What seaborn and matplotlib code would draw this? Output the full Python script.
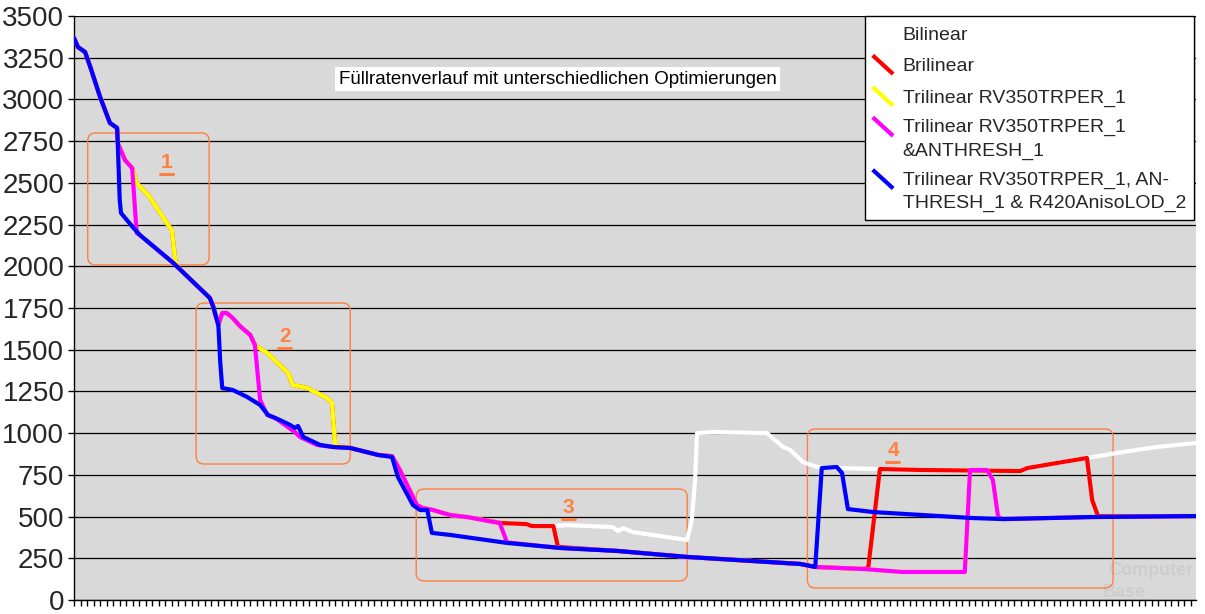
import matplotlib
matplotlib.use("Agg")
import matplotlib.pyplot as plt
import seaborn as sns
import pandas as pd
import numpy as np
from matplotlib.patches import FancyBboxPatch
from matplotlib.legend_handler import HandlerBase
from matplotlib.lines import Line2D
from matplotlib.transforms import IdentityTransform

sns.set_theme(style="white")
plt.rcParams["font.family"] = ["Liberation Sans", "DejaVu Sans"]

# ---------------- data (sample index, fill rate) ----------------
SERIES = ["Bilinear", "Brilinear", "Trilinear RV350TRPER_1",
          "Trilinear RV350TRPER_1\n&ANTHRESH_1",
          "Trilinear RV350TRPER_1, AN-\nTHRESH_1 & R420AnisoLOD_2"]
COLORS = ["#FFFFFF", "#FF0000", "#FFFF00", "#FF00FF", "#0000FF"]

START = [(0.0, 3368), (0.6, 3314), (1.7, 3284), (2.5, 3194), (4.0, 3014),
         (5.5, 2859), (6.6, 2829)]

BILINEAR = START + [
    (6.7, 2739), (7.8, 2637), (8.9, 2589), (9.6, 2499), (11.6, 2415), (14.4, 2247),
    (15.0, 2217), (15.5, 2037), (15.9, 1995), (20.8, 1810), (21.3, 1760), (22.1, 1648),
    (22.7, 1720), (23.4, 1720), (24.3, 1690), (25.4, 1642), (27.0, 1588), (27.7, 1528),
    (29.6, 1480), (31.5, 1408), (32.8, 1360), (33.5, 1288), (35.7, 1271), (38.7, 1211),
    (39.5, 1181), (40.0, 929), (42.3, 911), (46.6, 869), (48.7, 862), (49.9, 779),
    (52.5, 569), (53.4, 551), (55.0, 539), (57.6, 509), (60.2, 497), (65.5, 461),
    (69.3, 455), (70.1, 443), (73.4, 443), (75.5, 449), (82.5, 437), (83.3, 413),
    (84.1, 431), (85.6, 407), (88.7, 389), (90.8, 377), (93.9, 360), (94.6, 479),
    (95.1, 719), (95.4, 1000), (97.9, 1007), (106.1, 1000), (108.6, 917), (109.7, 899),
    (111.6, 827), (113.8, 797), (117.3, 791), (123.0, 785), (130.0, 779), (144.9, 773),
    (146.0, 791), (150.5, 821), (155.1, 851), (160.6, 887), (165.8, 917), (171.8, 941)]

BRILINEAR = START + [
    (6.7, 2739), (7.8, 2637), (8.9, 2589), (9.6, 2499), (11.6, 2415), (14.4, 2247),
    (15.0, 2217), (15.5, 2037), (15.9, 1995), (20.8, 1810), (21.3, 1760), (22.1, 1648),
    (22.7, 1720), (23.4, 1720), (24.3, 1690), (25.4, 1642), (27.0, 1588), (27.7, 1528),
    (29.6, 1480), (31.5, 1408), (32.8, 1360), (33.5, 1288), (35.7, 1271), (38.7, 1211),
    (39.5, 1181), (40.0, 929), (42.3, 911), (46.6, 869), (48.7, 862), (49.9, 779),
    (52.5, 569), (53.4, 551), (55.0, 539), (57.6, 509), (60.2, 497), (65.5, 461),
    (69.3, 455), (70.1, 443), (73.4, 443), (74.1, 318), (83.2, 294), (93.9, 258),
    (111.2, 216), (113.5, 198), (120.8, 186), (121.6, 190), (123.4, 785), (130.0, 779),
    (144.9, 773), (146.0, 791), (150.5, 821), (155.1, 851), (155.9, 599), (156.8, 503),
    (171.8, 503)]

TRILINEAR = START + [
    (6.7, 2739), (7.8, 2637), (8.9, 2589), (9.6, 2499), (11.6, 2415), (14.4, 2247),
    (15.0, 2217), (15.5, 2037), (15.9, 1995), (20.8, 1810), (21.3, 1760), (22.1, 1648),
    (22.7, 1720), (23.4, 1720), (24.3, 1690), (25.4, 1642), (27.0, 1588), (27.7, 1528),
    (29.6, 1480), (31.5, 1408), (32.8, 1360), (33.5, 1288), (35.7, 1271), (38.7, 1211),
    (39.5, 1181), (40.0, 929), (42.3, 911), (46.6, 869), (48.7, 862), (49.9, 779),
    (52.5, 569), (53.4, 551), (55.0, 539), (57.6, 509), (60.2, 497), (65.2, 461),
    (66.3, 345), (74.4, 312), (83.2, 294), (93.9, 258), (111.2, 216), (113.5, 198),
    (120.8, 186), (126.8, 168), (136.4, 168), (137.2, 779), (139.8, 779), (140.7, 719),
    (141.5, 497), (142.3, 485), (155.6, 497), (171.8, 503)]

TRI_ANTHRESH = START + [
    (6.7, 2739), (7.8, 2637), (8.9, 2589), (9.6, 2199), (10.1, 2187), (15.2, 2020),
    (20.8, 1810), (21.3, 1760), (22.1, 1648), (22.7, 1720), (23.4, 1720), (24.3, 1690),
    (25.4, 1642), (27.0, 1588), (27.7, 1528), (28.5, 1199), (29.6, 1109), (30.8, 1091),
    (33.8, 1007), (34.6, 977), (37.2, 929), (39.7, 917), (42.3, 911), (46.6, 869),
    (48.7, 862), (49.9, 779), (52.5, 569), (53.4, 551), (55.0, 539), (57.6, 509),
    (60.2, 497), (65.2, 461), (66.3, 345), (74.4, 312), (83.2, 294), (93.9, 258),
    (111.2, 216), (113.5, 198), (120.8, 186), (126.8, 168), (136.4, 168), (137.2, 779),
    (139.8, 779), (140.7, 719), (141.5, 497), (142.3, 485), (155.6, 497), (171.8, 503)]

TRI_ANISO = START + [
    (6.7, 2739), (7.0, 2397), (7.2, 2319), (9.0, 2235), (10.1, 2187), (15.2, 2020),
    (20.8, 1810), (21.3, 1760), (22.1, 1648), (22.4, 1420), (22.7, 1270), (24.3, 1259),
    (26.5, 1217), (28.5, 1169), (29.7, 1109), (31.5, 1079), (33.1, 1049), (33.8, 1031),
    (34.3, 1043), (35.1, 977), (37.7, 929), (39.7, 917), (42.3, 911), (46.6, 869),
    (48.7, 857), (49.6, 737), (51.9, 569), (53.0, 539), (54.1, 539), (54.8, 402),
    (57.6, 390), (66.3, 342), (74.4, 312), (83.2, 294), (93.9, 258), (111.2, 216),
    (113.5, 198), (114.5, 791), (116.8, 797), (117.6, 761), (118.5, 545), (122.4, 527),
    (130.0, 509), (137.7, 491), (142.3, 485), (155.6, 497), (171.8, 503)]

Y_TICKS = list(range(0, 3501, 250))
TITLE = "Füllratenverlauf mit unterschiedlichen Optimierungen"
BOX_LABELS = ["1", "2", "3", "4"]

# ---------------- build long table ----------------
frames = []
for name, pts in zip(SERIES, [BILINEAR, BRILINEAR, TRILINEAR, TRI_ANTHRESH, TRI_ANISO]):
    frames.append(pd.DataFrame({"series": name,
                                "x": [p[0] for p in pts],
                                "y": [p[1] for p in pts]}))
df = pd.concat(frames, ignore_index=True)

W, H = 1205, 614
fig = plt.figure(figsize=(W / 100, H / 100), dpi=100)
fig.patch.set_facecolor("white")
ax = fig.add_axes([74 / W, 14 / H, 1122 / W, 584 / H])
ax.set_facecolor("#D9D9D9")

sns.lineplot(data=df, x="x", y="y", hue="series", hue_order=SERIES,
             palette=dict(zip(SERIES, COLORS)), estimator=None, sort=False,
             legend=False, linewidth=3.0, ax=ax, zorder=3)

ax.set_xlim(0, 171.8)
ax.set_ylim(0, 3500)
ax.set_yticks(Y_TICKS)
ax.set_xticks(np.arange(0, 172, 1))
ax.set_xticklabels([])
ax.set_xlabel("")
ax.set_ylabel("")
ax.tick_params(axis="x", length=4.5, width=1, color="black", direction="out", bottom=True)
ax.tick_params(axis="y", length=4, width=1, color="black", direction="out", left=True,
               labelsize=20, pad=3)
ax.yaxis.grid(True, color="black", linewidth=0.9)
ax.xaxis.grid(False)
ax.set_axisbelow(True)
for s in ["top", "right"]:
    ax.spines[s].set_visible(False)
for s in ["left", "bottom"]:
    ax.spines[s].set_color("black")
    ax.spines[s].set_linewidth(1.0)

# title box
ax.text(0.431, 0.892, TITLE, transform=ax.transAxes, ha="center", va="center",
        fontsize=13.5, color="black", zorder=5,
        bbox=dict(facecolor="white", edgecolor="none", pad=2.5))

# orange highlight boxes (data coords -> display pixels)
ORANGE = "#FF8040"
boxes = [((2.1, 2008), (20.7, 2799), (14.2, 2620)),
         ((18.7, 815), (42.3, 1780), (32.3, 1580)),
         ((52.4, 114), (93.9, 665), (75.7, 555)),
         ((112.3, 72), (159.1, 1025), (125.4, 895))]
fig.canvas.draw()
for (lo, hi, lab), txt in zip(boxes, BOX_LABELS):
    (x0, y0) = ax.transData.transform(lo)
    (x1, y1) = ax.transData.transform(hi)
    p = FancyBboxPatch((x0, y0), x1 - x0, y1 - y0,
                       boxstyle="round,pad=0,rounding_size=8",
                       transform=IdentityTransform(), facecolor="none",
                       edgecolor=ORANGE, linewidth=1.0, zorder=2.5, clip_on=False)
    ax.add_artist(p)
    ax.text(lab[0], lab[1], txt, ha="center", va="center", color=ORANGE,
            fontsize=15, fontweight="bold", zorder=5)
    ax.add_line(Line2D([lab[0] - 1.0, lab[0] + 1.0], [lab[1] - 68, lab[1] - 68],
                       color=ORANGE, lw=2.2, zorder=5))

# watermark
ax.text(0.998, 0.05, "Computer", transform=ax.transAxes, ha="right", va="center",
        fontsize=13, fontweight="bold", color="#CDCDCD", zorder=1)
ax.text(0.955, 0.012, "Base", transform=ax.transAxes, ha="right", va="center",
        fontsize=13, fontweight="bold", color="#CDCDCD", zorder=1)

LINESPACING = 1.5


# legend with diagonal line handles
class DiagHandler(HandlerBase):
    def create_artists(self, legend, orig_handle, xdescent, ydescent, width, height,
                       fontsize, trans):
        n = getattr(orig_handle, "_nlines", 1)
        shift = (n - 1) * 0.5 * LINESPACING * 0.86 * fontsize
        x0, y0 = -xdescent, -ydescent + shift
        ln = Line2D([x0, x0 + width], [y0 + height, y0],
                    color=orig_handle.get_color(), lw=orig_handle.get_linewidth(),
                    solid_capstyle="butt")
        ln.set_transform(trans)
        return [ln]


handles = []
for name, c in zip(SERIES, COLORS):
    h = Line2D([], [], color=c, lw=3)
    h._nlines = name.count("\n") + 1
    handles.append(h)
leg = ax.legend(handles, SERIES, handler_map={Line2D: DiagHandler()},
                loc="upper right", bbox_to_anchor=(1194 / W, 1 - 16 / H),
                bbox_transform=fig.transFigure, frameon=True, fancybox=False,
                edgecolor="black", framealpha=1, facecolor="white", fontsize=14,
                handlelength=1.05, handleheight=1.1, handletextpad=0.5,
                labelspacing=0.6, borderpad=0.4, borderaxespad=0)
for t in leg.get_texts():
    t.set_linespacing(LINESPACING)
leg.get_frame().set_linewidth(1.0)
leg.set_zorder(10)

fig.savefig("out.png", dpi=100, facecolor="white")
